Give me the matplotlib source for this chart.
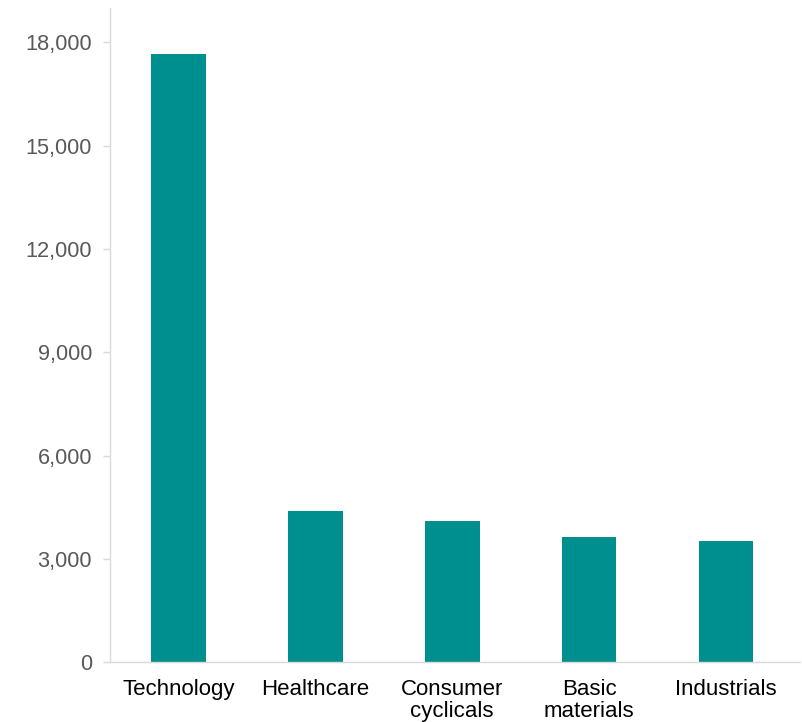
import matplotlib
matplotlib.use("Agg")
import matplotlib.pyplot as plt
from matplotlib.ticker import FuncFormatter

plt.rcParams['font.family'] = ['Liberation Sans', 'DejaVu Sans']

sectors = ["Technology", "Healthcare", "Consumer\ncyclicals", "Basic\nmaterials", "Industrials"]
values = [17650, 4390, 4095, 3620, 3505]
yticks = [0, 3000, 6000, 9000, 12000, 15000, 18000]

fig = plt.figure(figsize=(8.03, 7.22), dpi=100)
ax = fig.add_axes([0.137, 0.083, 0.859, 0.906])

x = range(len(sectors))
ax.bar(x, values, width=0.4, color="#008F8F", zorder=2)

ax.set_xlim(-0.5, len(sectors) - 0.46)
ax.set_ylim(0, 19000)
ax.set_yticks(yticks)
ax.yaxis.set_major_formatter(FuncFormatter(lambda v, p: f"{int(v):,}"))
ax.set_xticks(list(x))
ax.set_xticklabels(sectors, fontsize=16, color="black", linespacing=1.1)

for side in ("top", "right"):
    ax.spines[side].set_visible(False)
for side in ("left", "bottom"):
    ax.spines[side].set_color("#D9D9D9")
    ax.spines[side].set_linewidth(1.0)

ax.tick_params(axis="y", length=5, width=1, color="#D9D9D9", labelsize=15.7,
               labelcolor="#595959", pad=8)
ax.tick_params(axis="x", length=0, pad=12)

fig.savefig("out.png", dpi=100)
